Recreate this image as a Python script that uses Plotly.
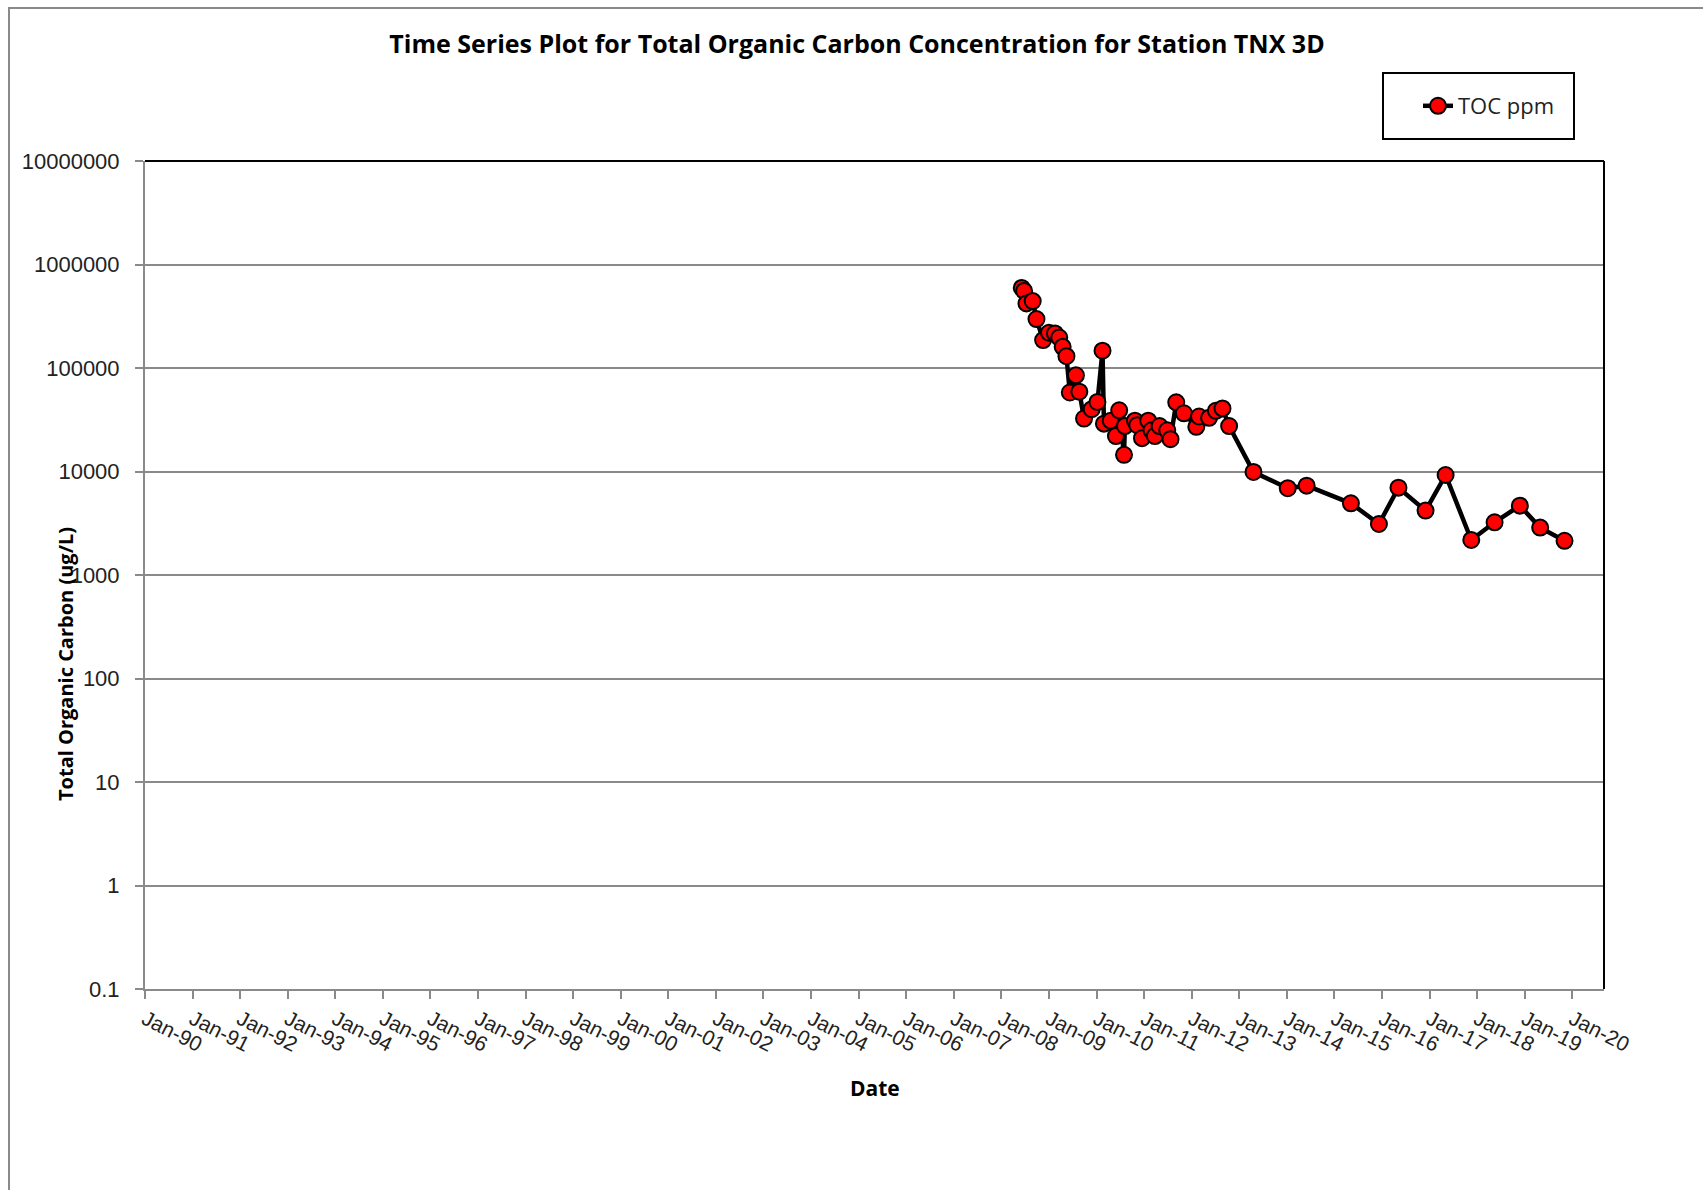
import plotly.graph_objects as go

# Sampling dates and TOC concentrations (ug/L) for station TNX 3D
sample_dates = [
    "2008-06-06", "2008-06-24", "2008-07-12", "2008-08-29", "2008-09-27",
    "2008-11-17", "2009-01-01", "2009-02-16", "2009-03-21", "2009-04-16",
    "2009-05-15", "2009-06-10", "2009-07-27", "2009-08-22", "2009-09-27",
    "2009-11-25", "2010-01-08", "2010-02-16", "2010-02-27", "2010-04-20",
    "2010-05-30", "2010-06-24", "2010-07-31", "2010-08-07", "2010-10-23",
    "2010-11-10", "2010-12-16", "2011-02-02", "2011-02-27", "2011-03-25",
    "2011-04-30", "2011-06-28", "2011-07-23", "2011-09-05", "2011-11-03",
    "2012-02-06", "2012-02-27", "2012-05-14", "2012-07-05", "2012-08-25",
    "2012-10-15", "2013-04-20", "2014-01-08", "2014-06-02", "2015-05-08",
    "2015-12-09", "2016-05-07", "2016-12-01", "2017-05-04", "2017-11-17",
    "2018-05-15", "2018-11-25", "2019-04-30", "2019-11-03",
]
toc_values = [
    594000, 556000, 421000, 443000, 297000,
    186000, 219000, 216000, 197000, 160000,
    130000, 58000, 85000, 59000, 32500,
    40000, 47000, 147000, 29000, 31000,
    22000, 39000, 14500, 27500, 31000,
    28000, 21000, 31000, 25000, 22000,
    27500, 25000, 20500, 46600, 36500,
    27000, 34000, 33000, 38600, 40700,
    27500, 9900, 6900, 7300, 4930,
    3110, 6980, 4190, 9250, 2180,
    3230, 4680, 2870, 2140,
]

# Axis ticks
year_ticks = [f"{y}-01-01" for y in range(1990, 2021)]
year_labels = [f"Jan-{str(y)[2:]}" for y in range(1990, 2021)]
conc_ticks = [0.1, 1, 10, 100, 1000, 10000, 100000, 1000000, 10000000]
conc_labels = ["0.1", "1", "10", "100", "1000", "10000", "100000", "1000000", "10000000"]

W, H = 1703, 1190
L, R, T, B = 145, 99, 161, 201
pw, ph = W - L - R, H - T - B


def px_x(x):
    return (x - L) / pw


def px_y(y):
    return (H - B - y) / ph


fig = go.Figure()
fig.add_trace(go.Scatter(
    x=sample_dates, y=toc_values, mode="lines+markers", name="TOC ppm",
    line=dict(color="black", width=4.5),
    marker=dict(symbol="circle", size=16, color="#ff0000",
                line=dict(color="black", width=2)),
))

gray = "#8a8a8a"
ytick_font = dict(family="Liberation Sans, Arial, sans-serif", size=22, color="#222")
xtick_font = dict(family="Liberation Sans, Arial, sans-serif", size=21, color="#222")
bold_font = "Open Sans, sans-serif"

fig.update_layout(
    width=W, height=H,
    margin=dict(l=L, r=R, t=T, b=B),
    paper_bgcolor="white", plot_bgcolor="white",
    showlegend=True,
    legend=dict(x=px_x(1418), y=px_y(106), xanchor="left", yanchor="middle",
                bgcolor="rgba(0,0,0,0)", borderwidth=0,
                font=dict(family="Open Sans, sans-serif", size=22, color="#222")),
    title=dict(text="<b>Time Series Plot for Total Organic Carbon Concentration for Station TNX 3D</b>",
               x=857 / W, xanchor="center", y=1 - 44.5 / H, yanchor="middle",
               font=dict(family=bold_font, size=25, color="black")),
    xaxis=dict(
        type="date", range=["1990-01-01", "2020-09-01"],
        tickmode="array", tickvals=year_ticks, ticktext=year_labels,
        tickangle=27, tickfont=xtick_font,
        ticks="outside", ticklen=8, tickwidth=2, tickcolor=gray,
        showline=True, linecolor=gray, linewidth=2,
        showgrid=False, zeroline=False,
    ),
    yaxis=dict(
        type="log", range=[-1, 7],
        tickmode="array", tickvals=conc_ticks, ticktext=conc_labels,
        tickfont=ytick_font, ticklabelstandoff=11,
        ticks="outside", ticklen=8, tickwidth=2, tickcolor=gray,
        showline=True, linecolor=gray, linewidth=2,
        showgrid=True, gridcolor=gray, gridwidth=2, zeroline=False,
    ),
    annotations=[
        dict(text="<b>Date</b>", xref="paper", yref="paper", x=0.5, y=px_y(1088),
             xanchor="center", yanchor="middle", showarrow=False,
             font=dict(family=bold_font, size=21, color="black")),
        dict(text="<b>Total Organic Carbon (ug/L)</b>", xref="paper", yref="paper",
             x=px_x(65), y=px_y(664), xanchor="center", yanchor="middle",
             textangle=-90, showarrow=False,
             font=dict(family=bold_font, size=20, color="black")),
    ],
    shapes=[
        # chart-area frame
        dict(type="rect", xref="paper", yref="paper",
             x0=px_x(9), x1=px_x(1760), y0=px_y(1250), y1=px_y(8),
             line=dict(color=gray, width=2), layer="below"),
        # plot-area frame, top and right edges
        dict(type="line", xref="paper", yref="paper", x0=0, x1=1, y0=1, y1=1,
             line=dict(color="black", width=2), layer="above"),
        dict(type="line", xref="paper", yref="paper", x0=1, x1=1, y0=0, y1=1,
             line=dict(color="black", width=2), layer="above"),
        # legend box
        dict(type="rect", xref="paper", yref="paper",
             x0=px_x(1383), x1=px_x(1574), y0=px_y(139), y1=px_y(73),
             line=dict(color="black", width=2), layer="above"),
    ],
)

fig.write_html("out.html")
